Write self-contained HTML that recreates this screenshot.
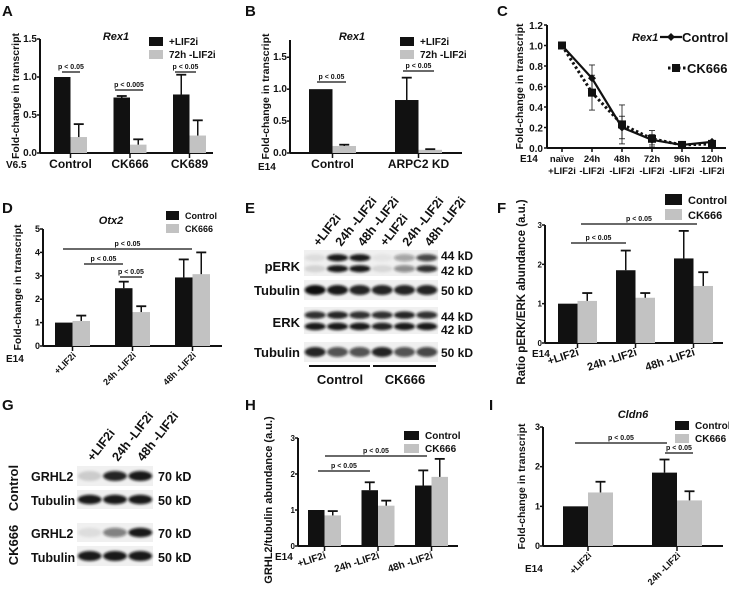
<!DOCTYPE html>
<html><head><meta charset="utf-8">
<style>
html,body{margin:0;padding:0;background:#fff;}
svg{display:block;font-family:"Liberation Sans",Arial,sans-serif;}
</style></head>
<body>
<svg id="fig" width="729" height="593" viewBox="0 0 729 593">
<defs><filter id="blur" x="-20%" y="-50%" width="140%" height="200%"><feGaussianBlur stdDeviation="1.2"/></filter></defs>
</svg>
<script>
// ===== DATA =====
const aCats = ["Control","CK666","CK689"];
const aBlack = [1.0,0.73,0.77];
const aBlackErr = [0.0,0.02,0.26];
const aGray = [0.21,0.11,0.23];
const aGrayErr = [0.17,0.07,0.20];
const aTicks = ["0.0","0.5","1.0","1.5"];

const bCats = ["Control","ARPC2 KD"];
const bBlack = [1.0,0.83];
const bBlackErr = [0.0,0.35];
const bGray = [0.11,0.05];
const bGrayErr = [0.02,0.01];
const bTicks = ["0.0","0.5","1.0","1.5"];

const cCats1 = ["naïve","24h","48h","72h","96h","120h"];
const cCats2 = ["+LIF2i","-LIF2i","-LIF2i","-LIF2i","-LIF2i","-LIF2i"];
const cControl = [1.0,0.68,0.20,0.08,0.03,0.06];
const cControlErr = [0.0,0.13,0.11,0.05,0.01,0.01];
const cCK666 = [1.0,0.54,0.23,0.09,0.03,0.04];
const cCK666Err = [0.0,0.17,0.19,0.08,0.01,0.01];
const cTicks = ["0.0","0.2","0.4","0.6","0.8","1.0","1.2"];

const dCats = ["+LIF2i","24h -LIF2i","48h -LIF2i"];
const dBlack = [1.0,2.47,2.93];
const dBlackErr = [0.0,0.28,0.77];
const dGray = [1.07,1.45,3.07];
const dGrayErr = [0.23,0.25,0.93];
const dTicks = ["0","1","2","3","4","5"];

const fCats = ["+LIF2i","24h -LIF2i","48h -LIF2i"];
const fBlack = [1.0,1.85,2.15];
const fBlackErr = [0.0,0.50,0.70];
const fGray = [1.07,1.15,1.45];
const fGrayErr = [0.20,0.12,0.35];
const fTicks = ["0","1","2","3"];

const hCats = ["+LIF2i","24h -LIF2i","48h -LIF2i"];
const hBlack = [1.0,1.55,1.68];
const hBlackErr = [0.0,0.22,0.42];
const hGray = [0.85,1.12,1.92];
const hGrayErr = [0.12,0.14,0.50];
const hTicks = ["0","1","2","3"];

const iCats = ["+LIF2i","24h -LIF2i"];
const iBlack = [1.0,1.85];
const iBlackErr = [0.0,0.33];
const iGray = [1.35,1.15];
const iGrayErr = [0.27,0.23];
const iTicks = ["0","1","2","3"];

// blot band intensities (0..1) per lane
const ePERK44 = [0.08,0.95,0.95,0.05,0.35,0.75];
const ePERK42 = [0.12,0.95,0.95,0.1,0.45,0.85];
const eTub1 = [1,0.95,0.9,0.9,0.9,0.9];
const eERK44 = [0.85,0.9,0.85,0.85,0.9,0.85];
const eERK42 = [0.95,0.95,0.95,0.9,0.95,0.95];
const eTub2 = [0.9,0.7,0.7,0.9,0.7,0.75];
const gGRHL2c = [0.15,0.9,0.95];
const gTubc = [0.95,0.95,0.95];
const gGRHL2k = [0.08,0.5,0.95];
const gTubk = [0.95,0.95,0.95];

// ===== HELPERS =====
const svg = document.getElementById('fig');
const NS = 'http://www.w3.org/2000/svg';
function mk(tag, attrs, parent){
  const e = document.createElementNS(NS, tag);
  for (const k in attrs) e.setAttribute(k, attrs[k]);
  (parent||svg).appendChild(e);
  return e;
}
function txt(x,y,s,size,opts,parent){
  opts = opts||{};
  const t = mk('text',{x:x,y:y,'font-size':size,fill:'#111'},parent);
  if (opts.bold!==false) t.setAttribute('font-weight','bold');
  if (opts.anchor) t.setAttribute('text-anchor',opts.anchor);
  if (opts.italic) t.setAttribute('font-style','italic');
  if (opts.rot!==undefined) t.setAttribute('transform','rotate('+opts.rot+' '+x+' '+y+')');
  t.textContent = s;
  return t;
}
function group(name){
  const g = mk('g',{});
  
  
  return g;
}
function line(x1,y1,x2,y2,w,parent,dash){
  const l = mk('line',{x1:x1,y1:y1,x2:x2,y2:y2,stroke:'#111','stroke-width':w||1},parent);
  if (dash) l.setAttribute('stroke-dasharray',dash);
  return l;
}

function barChart(c){
  const g = group(c.name);
  const ys = v => c.y0 - v/c.yMax*(c.y0-c.yTop);
  const ya = line(c.ax, c.yTop, c.ax, c.y0, 2, g);
  
  
  const xa = line(c.ax, c.y0, c.axEnd, c.y0, 2, g);
  
  
  c.ticks.forEach((t,i)=>{
    const v = parseFloat(t);
    const y = ys(v);
    line(c.ax-3, y, c.ax, y, 1.5, g);
    const tl = txt(c.ax-3, y+3, t, c.tickSize||9, {anchor:'end'}, g);
    
    
  });
  const xs = i => c.x0 + i*c.step;
  c.cats.forEach((cat,i)=>{
    const cx = xs(i) + c.bw;
    const series = [[c.black,c.blackErr,'#111',0],[c.gray,c.grayErr,'#c2c2c2',1]];
    series.forEach(s=>{
      const v = s[0][i], e = s[1][i];
      const x = xs(i) + s[3]*c.bw;
      const r = mk('rect',{x:x,y:ys(v),width:c.bw,height:c.y0-ys(v),fill:s[2]},g);
      
      
      if (e>0){
        const mx = x + c.bw/2;
        line(mx, ys(v), mx, ys(v+e), 1.5, g);
        line(mx-5, ys(v+e), mx+5, ys(v+e), 1.8, g);
      }
    });
    line(cx, c.y0, cx, c.y0+5, 1.5, g);
    let lab;
    if (c.rot){
      lab = txt(cx+c.lx, c.y0+c.ly, cat, c.labSize||9, {anchor:'end', rot:c.rot}, g);
    } else {
      lab = txt(cx, c.y0+15, cat, c.labSize||12, {anchor:'middle'}, g);
    }
    
    
  });
  const yt = txt(c.ytx, (c.yTop+c.y0)/2 + (c.ytoff||0), c.ytitle, c.ytSize||11, {anchor:'middle', rot:-90}, g);
  
  
  if (c.cellLine){ const e = txt(c.cellLine[0], c.cellLine[1], c.cellLine[2], 10, {}, g);
      }
  if (c.title){ const t = txt(c.title[0], c.title[1], c.title[2], 11, {italic:true, anchor:'middle'}, g);
      }
  if (c.legend){
    const L = c.legend;
    L.items.forEach((s,k)=>{
      const y = L.y + k*L.dy;
      const r = mk('rect',{x:L.x,y:y,width:L.w,height:L.h,fill:k?'#c2c2c2':'#111'},g);
      
      
      const t = txt(L.x+L.w+6, y+L.h-1, s, L.size||10, {}, g);
      
      
    });
  }
  (c.pvals||[]).forEach(p=>{
    line(p[0], p[2], p[1], p[2], 1.2, g);
    const t = txt((p[0]+p[1])/2, p[2]-3, p[3], 7, {anchor:'middle'}, g);
    
    
  });
  return g;
}

function panelLetter(x,y,s){
  const t = txt(x,y,s,15,{});
  
  
}

// ===== PANELS =====
panelLetter(2,16,'A'); panelLetter(245,16,'B'); panelLetter(497,16,'C');
panelLetter(2,213,'D'); panelLetter(245,213,'E'); panelLetter(497,213,'F');
panelLetter(2,410,'G'); panelLetter(245,410,'H'); panelLetter(489,410,'I');

barChart({name:'panel-a-chart', ax:40, axEnd:213, y0:153, yTop:39, yMax:1.5, ticks:aTicks, tickSize:10,
  cats:aCats, black:aBlack, blackErr:aBlackErr, gray:aGray, grayErr:aGrayErr,
  x0:54, step:59.5, bw:16.5, ytx:19, ytitle:'Fold-change in transcript', ytSize:10.5,
  cellLine:[6,168,'V6.5'], title:[116,40,'Rex1'],
  legend:{x:149,y:37,w:14,h:9,dy:13,items:['+LIF2i','72h -LIF2i'],size:10},
  pvals:[[62,80,72,'p < 0.05'],[115,143,90,'p < 0.005'],[175,196,72,'p < 0.05']]});

barChart({name:'panel-b-chart', ax:290, axEnd:462, y0:153, yTop:40, yMax:1.77, ticks:bTicks, tickSize:10,
  cats:bCats, black:bBlack, blackErr:bBlackErr, gray:bGray, grayErr:bGrayErr,
  x0:309, step:86, bw:23.5, ytx:269, ytitle:'Fold-change in transcript', ytSize:10.5,
  cellLine:[258,170,'E14'], title:[352,40,'Rex1'],
  legend:{x:400,y:37,w:14,h:9,dy:13,items:['+LIF2i','72h -LIF2i'],size:10},
  pvals:[[317,346,82,'p < 0.05'],[403,434,71,'p < 0.05']]});

barChart({name:'panel-d-chart', ax:43, axEnd:222, y0:346, yTop:229, yMax:5, ticks:dTicks,
  cats:dCats, black:dBlack, blackErr:dBlackErr, gray:dGray, grayErr:dGrayErr,
  x0:55, step:60, bw:17.5, rot:-45, lx:4, ly:10, labSize:9,
  ytx:21, ytitle:'Fold-change in transcript', ytSize:10.5,
  cellLine:[6,362,'E14'], title:[111,224,'Otx2'],
  legend:{x:166,y:211,w:13,h:9,dy:13,items:['Control','CK666'],size:9},
  pvals:[[63,192,249,'p < 0.05'],[84,123,264,'p < 0.05'],[120,142,277,'p < 0.05']]});

barChart({name:'panel-f-chart', ax:545, axEnd:723, y0:343, yTop:225, yMax:3, ticks:fTicks, tickSize:8,
  cats:fCats, black:fBlack, blackErr:fBlackErr, gray:fGray, grayErr:fGrayErr,
  x0:558, step:58, bw:19.5, rot:-18, lx:2, ly:12, labSize:11,
  ytx:525, ytoff:8, ytitle:'Ratio pERK/ERK abundance (a.u.)', ytSize:11.5,
  cellLine:[532,357,'E14'],
  legend:{x:665,y:194,w:17,h:11,dy:15,items:['Control','CK666'],size:11},
  pvals:[[581,697,224,'p < 0.05'],[571,626,243,'p < 0.05']]});

barChart({name:'panel-h-chart', ax:298, axEnd:458, y0:546, yTop:438, yMax:3, ticks:hTicks, tickSize:8,
  cats:hCats, black:hBlack, blackErr:hBlackErr, gray:hGray, grayErr:hGrayErr,
  x0:308, step:53.5, bw:16.5, rot:-18, lx:2, ly:12, labSize:10,
  ytx:272, ytoff:8, ytitle:'GRHL2/tubulin abundance (a.u.)', ytSize:11,
  cellLine:[275,560,'E14'],
  legend:{x:404,y:431,w:15,h:9,dy:13,items:['Control','CK666'],size:10},
  pvals:[[325,427,456,'p < 0.05'],[318,370,471,'p < 0.05']]});

barChart({name:'panel-i-chart', ax:543, axEnd:723, y0:546, yTop:427, yMax:3, ticks:iTicks,
  cats:iCats, black:iBlack, blackErr:iBlackErr, gray:iGray, grayErr:iGrayErr,
  x0:563, step:89, bw:25, rot:-45, lx:4, ly:10, labSize:9,
  ytx:525, ytitle:'Fold-change in transcript', ytSize:10.5,
  cellLine:[525,572,'E14'], title:[633,418,'Cldn6'],
  legend:{x:675,y:421,w:14,h:9,dy:13,items:['Control','CK666'],size:10},
  pvals:[[575,667,443,'p < 0.05'],[665,693,453,'p < 0.05']]});

// ===== Panel C line chart =====
(function(){
  const g = group('panel-c-chart');
  const ax=547, axEnd=726, y0=148, yTop=25, yMax=1.2, x0=562, step=30;
  const xs = i => x0 + i*step;
  const ys = v => y0 - v/yMax*(y0-yTop);
  line(ax,yTop,ax,y0,2,g);
  line(ax,y0,axEnd,y0,2,g);
  cTicks.forEach(t=>{
    const y = ys(parseFloat(t));
    line(ax-3,y,ax,y,1.5,g);
    const tl = txt(ax-4,y+4,t,10,{anchor:'end'},g);
    
    
  });
  cCats1.forEach((c,i)=>{
    line(xs(i),y0,xs(i),y0+4,1.5,g);
    txt(xs(i),y0+14,c,9.5,{anchor:'middle'},g);
    txt(xs(i),y0+26,cCats2[i],9.5,{anchor:'middle'},g);
  });
  txt(520,162,'E14',10,{},g);
  txt(523,(yTop+y0)/2,'Fold-change in transcript',10.5,{anchor:'middle',rot:-90},g);
  [[cControl,cControlErr],[cCK666,cCK666Err]].forEach(s=>{
    s[0].forEach((v,i)=>{
      const e=s[1][i]; if(e<=0) return;
      line(xs(i),ys(v-e),xs(i),ys(v+e),0.8,g);
      line(xs(i)-3,ys(v+e),xs(i)+3,ys(v+e),0.8,g);
      line(xs(i)-3,ys(v-e),xs(i)+3,ys(v-e),0.8,g);
    });
  });
  const ptsK = cCK666.map((v,i)=>xs(i)+','+ys(v)).join(' ');
  const pk = mk('polyline',{points:ptsK,fill:'none',stroke:'#111','stroke-width':3,'stroke-dasharray':'2.5,2.5'},g);
  
  
  const ptsC = cControl.map((v,i)=>xs(i)+','+ys(v)).join(' ');
  const pc = mk('polyline',{points:ptsC,fill:'none',stroke:'#111','stroke-width':2.2},g);
  
  
  cCK666.forEach((v,i)=>{
    const r = mk('rect',{x:xs(i)-4,y:ys(v)-4,width:8,height:8,fill:'#111'},g);
    
    
  });
  cControl.forEach((v,i)=>{
    const x=xs(i), y=ys(v);
    const p = mk('polygon',{points:`${x},${y-4} ${x+4},${y} ${x},${y+4} ${x-4},${y}`,fill:'#111'},g);
    
    
  });
  txt(632,41,'Rex1',11,{italic:true},g);
  line(660,37,682,37,2.2,g); mk('polygon',{points:'671,33 675,37 671,41 667,37',fill:'#111'},g);
  txt(682,42,'Control',13,{},g);
  line(668,68,686,68,3,g,'2.5,2.5'); mk('rect',{x:672,y:64,width:8,height:8,fill:'#111'},g);
  txt(687,73,'CK666',13,{},g);
})();

// ===== Blots =====
function blotRow(g, x, y, w, h, bands, name){
  const r = mk('rect',{x:x,y:y,width:w,height:h,fill:'#f0f0f0'},g);
  
  
  const lw = w/bands[0].length;
  bands.forEach((b,bi)=>{
    const cy = y + h*(bands.length===1?0.5:(bi===0?0.3:0.72));
    const bh = bands.length===1? h*0.5 : h*0.28;
    b.forEach((v,i)=>{
      mk('ellipse',{cx:x+lw*(i+0.5),cy:cy,rx:lw*0.47,ry:bh/2,fill:'#111','fill-opacity':v,filter:'url(#blur)'},g);
    });
  });
}
(function(){
  const g = group('panel-e-blot');
  const x=304, w=134;
  blotRow(g,x,250,w,26,[ePERK44,ePERK42],'perk');
  blotRow(g,x,280,w,20,[eTub1],'tubulin1');
  blotRow(g,x,307,w,27,[eERK44,eERK42],'erk');
  blotRow(g,x,342,w,20,[eTub2],'tubulin2');
  txt(300,271,'pERK',13,{anchor:'end'},g);
  txt(300,295,'Tubulin',13,{anchor:'end'},g);
  txt(300,327,'ERK',13,{anchor:'end'},g);
  txt(300,357,'Tubulin',13,{anchor:'end'},g);
  [['44 kD',260],['42 kD',275],['50 kD',295],['44 kD',321],['42 kD',334],['50 kD',357]].forEach(k=>txt(441,k[1],k[0],12,{},g));
  line(309,366,370,366,2,g); line(373,366,436,366,2,g);
  txt(340,384,'Control',13,{anchor:'middle'},g);
  txt(405,384,'CK666',13,{anchor:'middle'},g);
  const lanes=['+LIF2i','24h -LIF2i','48h -LIF2i','+LIF2i','24h -LIF2i','48h -LIF2i'];
  lanes.forEach((l,i)=>{ const t=txt(x+11+i*22.3+4,247,l,12.5,{rot:-52},g);
      });
})();
(function(){
  const g = group('panel-g-blot');
  const x=77, w=76;
  blotRow(g,x,466,w,20,[gGRHL2c],'grhl2-control');
  blotRow(g,x,490,w,19,[gTubc],'tubulin-control');
  blotRow(g,x,523,w,19,[gGRHL2k],'grhl2-ck666');
  blotRow(g,x,546,w,20,[gTubk],'tubulin-ck666');
  txt(31,481,'GRHL2',12.5,{},g); txt(31,505,'Tubulin',12.5,{},g);
  txt(31,538,'GRHL2',12.5,{},g); txt(31,562,'Tubulin',12.5,{},g);
  [['70 kD',481],['50 kD',505],['70 kD',538],['50 kD',562]].forEach(k=>txt(158,k[1],k[0],12.5,{},g));
  txt(18,488,'Control',13,{anchor:'middle',rot:-90},g);
  txt(18,545,'CK666',13,{anchor:'middle',rot:-90},g);
  ['+LIF2i','24h -LIF2i','48h -LIF2i'].forEach((l,i)=>{ const t=txt(x+12+i*25+4,462,l,12.5,{rot:-52},g);
      });
})();
</script>
</body></html>
